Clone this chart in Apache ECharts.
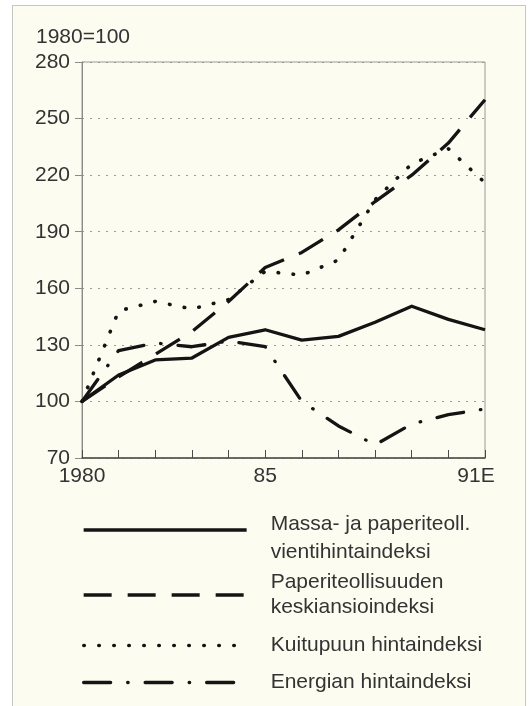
<!DOCTYPE html>
<html>
<head>
<meta charset="utf-8">
<script src="https://cdn.jsdelivr.net/npm/echarts@6/dist/echarts.min.js"></script>
<style>
  body { margin: 0; background: #ffffff; }
  .frame {
    position: absolute; left: 12px; top: 5px;
    width: 512px; height: 720px;
    border: 1px solid #c6c6c2; background: #fcfcf1;
  }
  #chart { position: absolute; left: 0; top: 0; width: 529px; height: 706px; }
</style>
</head>
<body>
<div class="frame"></div>
<div id="chart"></div>
<script>
  // vuodet ja näytettävät tikkitekstit
  var years = ['1980', '1981', '1982', '1983', '1984', '1985', '1986', '1987', '1988', '1989', '1990', '1991']
  var yearLabels = ['1980', '', '', '', '', '85', '', '', '', '', '', '91E']

  // indeksit, 1980=100
  var massa = [100, 114, 122, 123, 134, 138, 132.5, 134.5, 142, 150.5, 143.5, 138]
  var paperi = [100, 113, 125, 137, 153, 171, 179, 191, 206, 220, 237, 260]
  var kuitu = [100, 148, 153, 149, 154, 169, 167, 175, 207, 226, 234, 216]
  var energia = [100, 127, 131, 129, 132, 129, 100, 87, 77, 88, 93, 96]

  var names = [
    'Massa- ja paperiteoll.\nvientihintaindeksi',
    'Paperiteollisuuden\nkeskiansioindeksi',
    'Kuitupuun hintaindeksi',
    'Energian hintaindeksi'
  ]

  var font = "'Liberation Sans', Arial, sans-serif"
  var fs = 21
  var ink = '#141414'
  var textCol = '#333333'

  var styles = [
    { type: 'solid', width: 3.3, cap: 'butt' },
    { type: [28, 16], width: 3.3, cap: 'butt' },
    { type: [0.5, 14.5], width: 3.6, cap: 'round' },
    { type: [27, 17, 0.5, 17], width: 3.3, cap: 'round' }
  ]
  var values = [massa, paperi, kuitu, energia]

  // legendat erikseen, jotta rivit saa kohdalleen
  var legendTops = [502, 570, 633, 670]
  var legendLH = [28, 25, 25, 25]

  var myChart = echarts.init(document.getElementById('chart'))
  var option = {
    animation: false,
    backgroundColor: 'transparent',
    title: {
      text: '1980=100',
      left: 36,
      top: 27,
      padding: 0,
      textStyle: { fontFamily: font, fontSize: fs, fontWeight: 'normal', color: textCol }
    },
    legend: names.map(function (n, i) {
      var leg = {
        data: [n],
        left: 82,
        top: legendTops[i],
        padding: 0,
        itemWidth: 163,
        itemHeight: 14,
        selectedMode: false,
        lineStyle: { type: styles[i].type, width: styles[i].width, cap: styles[i].cap, color: ink },
        itemStyle: { opacity: 0 },
        textStyle: {
          fontFamily: font, fontSize: fs, color: textCol,
          lineHeight: legendLH[i], padding: [0, 0, 0, 19]
        }
      }
      if (i === 0) {
        // ensimmäinen rivi viivan tasolle
        leg.formatter = function (name) {
          var p = name.split('\n')
          return '{a|' + p[0] + '}\n{b|' + p[1] + '}'
        }
        leg.textStyle.rich = {
          a: { fontFamily: font, fontSize: fs, color: textCol, lineHeight: 44 },
          b: { fontFamily: font, fontSize: fs, color: textCol, lineHeight: 12 }
        }
      }
      return leg
    }),
    grid: {
      left: 82,
      right: 44,
      top: 62,
      bottom: 248,
      show: true,
      borderColor: '#9a9a96',
      borderWidth: 1
    },
    xAxis: {
      type: 'category',
      boundaryGap: false,
      data: years,
      axisLine: { lineStyle: { color: '#4a4a48', width: 1.5 } },
      axisTick: { inside: true, length: 8, interval: 0, lineStyle: { color: '#4a4a48', width: 1 } },
      axisLabel: {
        interval: 0,
        margin: 8,
        fontFamily: font,
        fontSize: fs,
        color: textCol,
        formatter: function (v, i) {
          if (i === 11) return '{e|' + yearLabels[i] + '}'
          return yearLabels[i]
        },
        rich: { e: { fontFamily: font, fontSize: fs, color: textCol, padding: [0, 18, 0, 0] } }
      },
      splitLine: { show: false }
    },
    yAxis: {
      type: 'value',
      min: 70,
      max: 280,
      interval: 30,
      axisLine: { show: true, lineStyle: { color: '#8a8a86', width: 1 } },
      axisTick: { show: true, length: 7, lineStyle: { color: '#8a8a86' } },
      axisLabel: { margin: 12, fontFamily: font, fontSize: fs, color: textCol },
      splitLine: { show: true, lineStyle: { color: '#9a9a96', type: [2, 6], width: 1 } }
    },
    series: names.map(function (n, i) {
      return {
        name: n,
        type: 'line',
        symbol: 'none',
        data: values[i],
        lineStyle: { color: ink, width: styles[i].width, type: styles[i].type, cap: styles[i].cap, join: 'round' },
        z: 3 + i
      }
    })
  }
  myChart.setOption(option)
</script>
</body>
</html>
